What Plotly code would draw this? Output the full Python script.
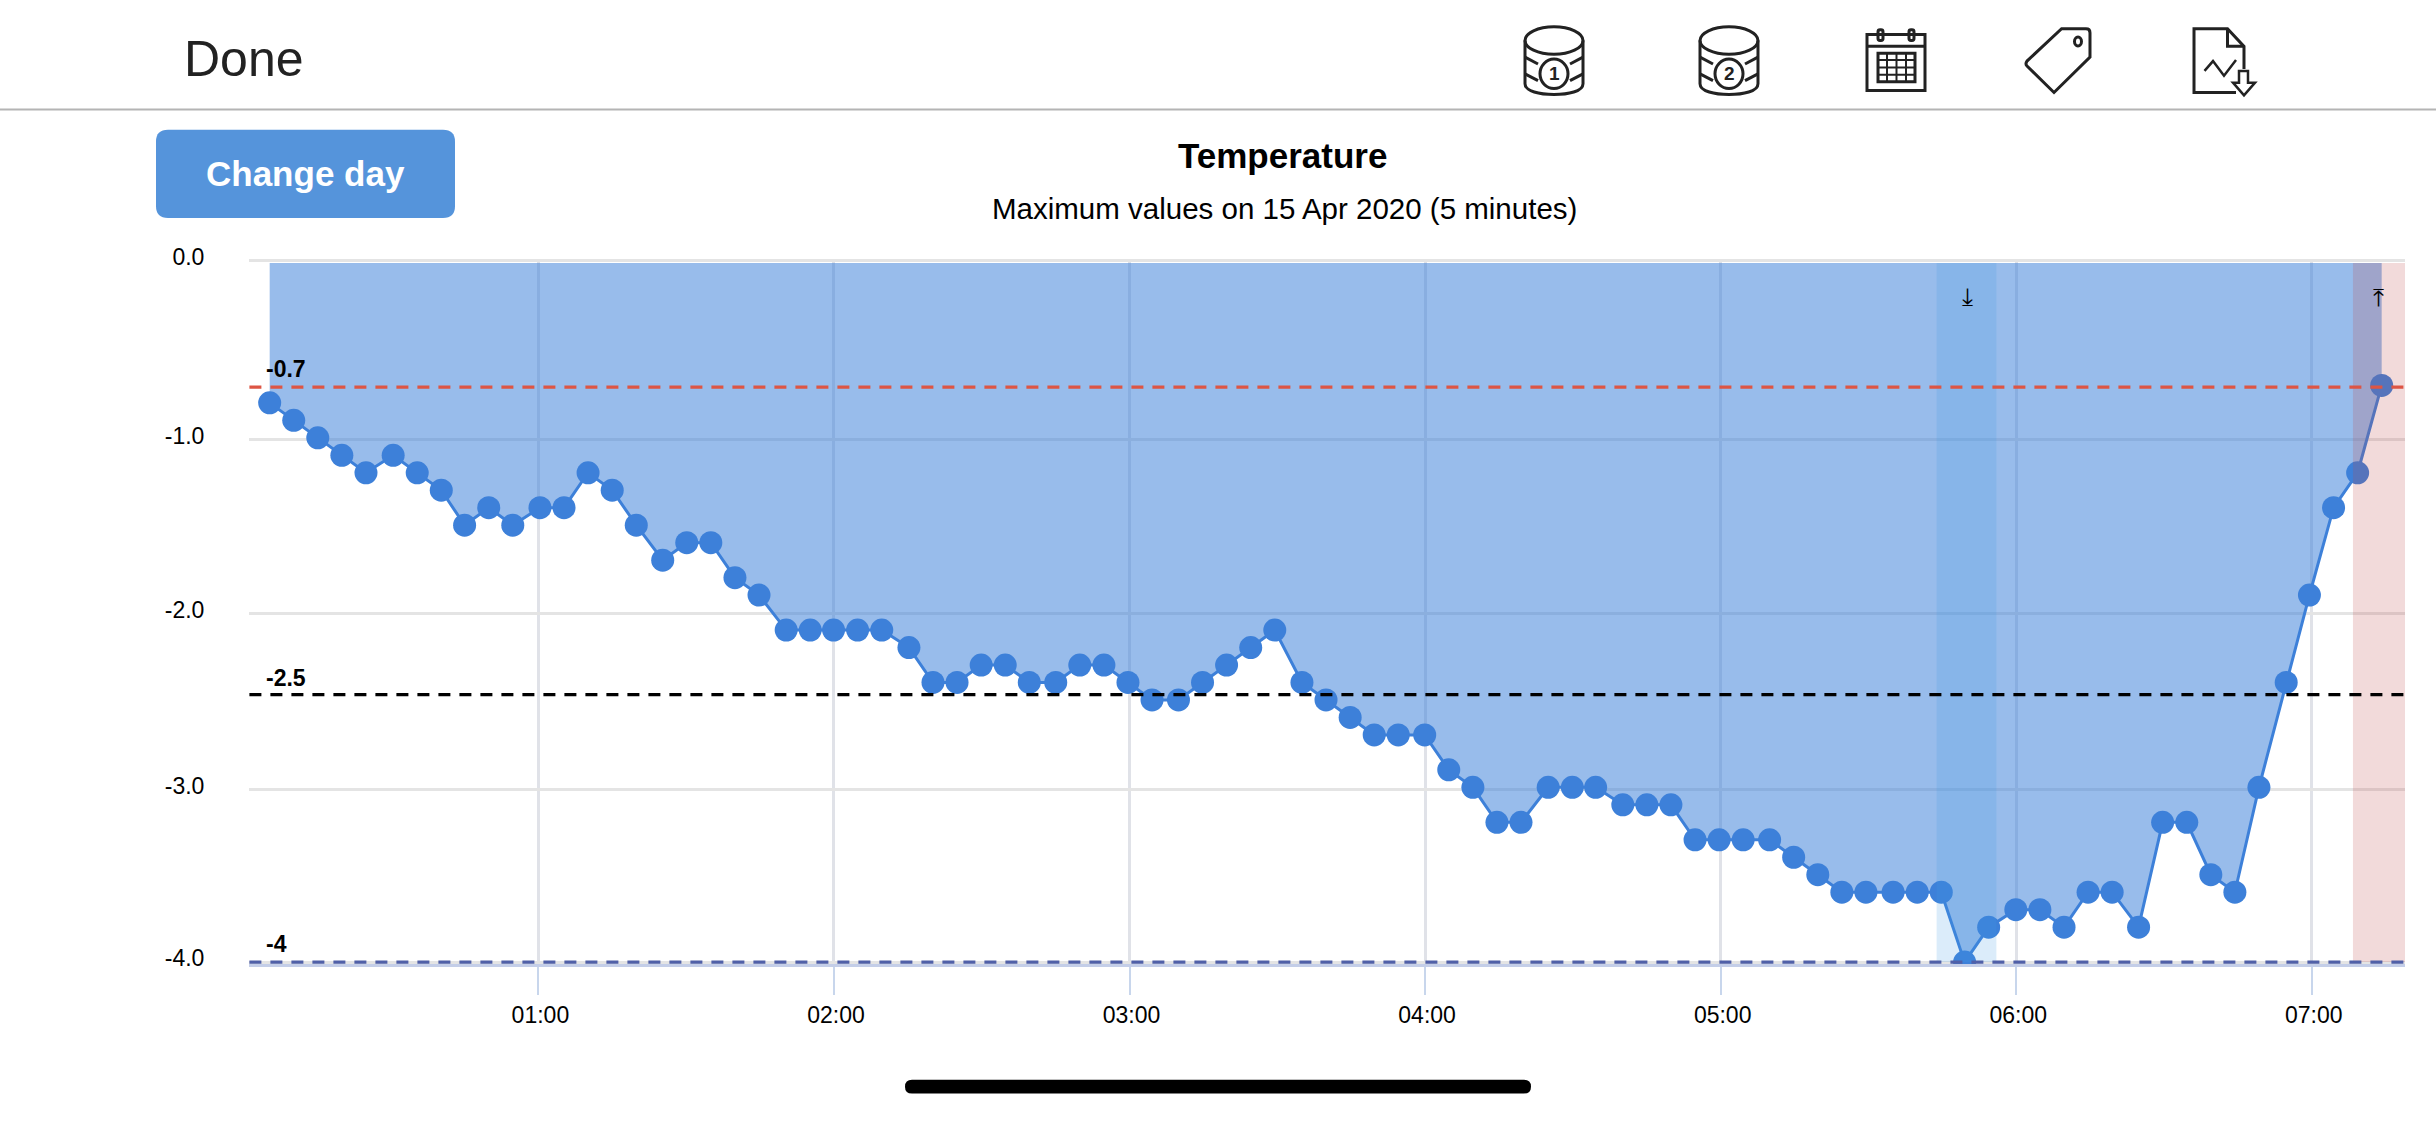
import re
import plotly.graph_objects as go

W, H = 2436, 1125
DAY = "2020-04-15 "

times = ["00:05:27","00:10:20","00:15:13","00:20:06","00:25:00","00:30:31","00:35:24","00:40:17","00:45:01","00:49:55",
"00:54:48","01:00:19","01:05:12","01:10:05","01:14:59","01:19:52","01:25:14","01:30:07","01:35:00","01:39:54",
"01:44:47","01:50:18","01:55:11","01:59:55","02:04:48","02:09:42","02:15:13","02:20:06","02:24:59","02:29:53",
"02:34:46","02:39:39","02:45:01","02:49:54","02:54:48","02:59:41","03:04:34","03:09:56","03:14:49","03:19:42",
"03:24:36","03:29:29","03:35:00","03:39:53","03:44:47","03:49:40","03:54:33","03:59:55","04:04:48","04:09:42",
"04:14:35","04:19:28","04:24:59","04:29:53","04:34:37","04:40:08","04:45:01","04:49:54","04:54:48","04:59:41",
"05:04:34","05:09:56","05:14:49","05:19:43","05:24:36","05:29:29","05:35:00","05:39:54","05:44:47","05:49:31",
"05:54:24","05:59:55","06:04:48","06:09:42","06:14:35","06:19:28","06:24:50","06:29:43","06:34:37","06:39:30",
"06:44:23","06:49:16","06:54:48","06:59:31","07:04:25","07:09:18","07:14:11"]
temps = [-0.8,-0.9,-1.0,-1.1,-1.2,-1.1,-1.2,-1.3,-1.5,-1.4,
-1.5,-1.4,-1.4,-1.2,-1.3,-1.5,-1.7,-1.6,-1.6,-1.8,
-1.9,-2.1,-2.1,-2.1,-2.1,-2.1,-2.2,-2.4,-2.4,-2.3,
-2.3,-2.4,-2.4,-2.3,-2.3,-2.4,-2.5,-2.5,-2.4,-2.3,
-2.2,-2.1,-2.4,-2.5,-2.6,-2.7,-2.7,-2.7,-2.9,-3.0,
-3.2,-3.2,-3.0,-3.0,-3.0,-3.1,-3.1,-3.1,-3.3,-3.3,
-3.3,-3.3,-3.4,-3.5,-3.6,-3.6,-3.6,-3.6,-3.6,-4.0,
-3.8,-3.7,-3.7,-3.8,-3.6,-3.6,-3.8,-3.2,-3.2,-3.5,
-3.6,-3.0,-2.4,-1.9,-1.4,-1.2,-0.7]

y_ticks = [0.012, -1.01, -2.005, -3.015, -4.0]
y_tick_labels = ["0.0", "-1.0", "-2.0", "-3.0", "-4.0"]
x_ticks = ["01:00", "02:00", "03:00", "04:00", "05:00", "06:00", "07:00"]

threshold_values = [-0.71, -2.47, -4.0]
threshold_labels = ["-0.7", "-2.5", "-4"]
threshold_colors = ["#DD5544", "#000000", "#5060A8"]

band_starts = ["05:43:50", "07:08:21"]
band_ends = ["05:55:58", "07:18:55"]
band_colors = ["rgba(66,155,229,0.19)", "rgba(190,70,70,0.2)"]
band_marks = ["\u2913", "\u2912"]

BLUE = "#3D80D9"
INK = "#222222"


def pxx(x):
    return x / W


def pxy(y):
    return 1 - y / H


def conv(d):
    return re.sub(r"(-?[\d.]+),(-?[\d.]+)",
                  lambda m: f"{pxx(float(m.group(1))):.5f},{pxy(float(m.group(2))):.5f}", d)


shapes = []


def path(d, line=INK, width=3, fill=None):
    s = dict(type="path", xref="paper", yref="paper", path=conv(d), layer="above",
             line=dict(color=line, width=width))
    if fill:
        s["fillcolor"] = fill
    shapes.append(s)


def rrect(x0, y0, x1, y1, r):
    return (f"M{x0+r},{y0} L{x1-r},{y0} Q{x1},{y0} {x1},{y0+r} L{x1},{y1-r} Q{x1},{y1} {x1-r},{y1} "
            f"L{x0+r},{y1} Q{x0},{y1} {x0},{y1-r} L{x0},{y0+r} Q{x0},{y0} {x0+r},{y0} Z")


def ellipse(cx, cy, rx, ry):
    k = 0.5523
    return (f"M{cx-rx},{cy} C{cx-rx},{cy-k*ry} {cx-k*rx},{cy-ry} {cx},{cy-ry} "
            f"C{cx+k*rx},{cy-ry} {cx+rx},{cy-k*ry} {cx+rx},{cy} "
            f"C{cx+rx},{cy+k*ry} {cx+k*rx},{cy+ry} {cx},{cy+ry} "
            f"C{cx-k*rx},{cy+ry} {cx-rx},{cy+k*ry} {cx-rx},{cy} Z")


# translucent day bands, then threshold lines, both above the series
for a, b, c in zip(band_starts, band_ends, band_colors):
    shapes.append(dict(type="rect", xref="x", yref="y", x0=DAY + a, x1=DAY + b, y0=0, y1=-4,
                       fillcolor=c, line=dict(width=0), layer="above"))
for v, c in zip(threshold_values, threshold_colors):
    shapes.append(dict(type="line", xref="x domain", yref="y", x0=0, x1=1, y0=v, y1=v, layer="above",
                       line=dict(color=c, width=3.2, dash="12px,9px")))

# header rule, button, home bar
path("M0,96.5 L2436,96.5", line="#B4B4B4", width=2)
path(rrect(156, 117, 455, 207, 12), line="#5594DB", width=0, fill="#5594DB")
path(rrect(905, 1086, 1531, 1100, 7), line="#000000", width=0, fill="#000000")

# database icons
for cx in (1554, 1729):
    path(ellipse(cx, 26, 29, 14))
    path(f"M{cx-29},26 L{cx-29},70 C{cx-29},78 {cx-14},81 {cx},81 C{cx+14},81 {cx+29},78 {cx+29},70 L{cx+29},26")
    path(f"M{cx-29},43 L{cx-16},50")
    path(f"M{cx+29},43 L{cx+16},50")
    path(f"M{cx-29},60 L{cx-16},67")
    path(f"M{cx+29},60 L{cx+16},67")
    path(ellipse(cx, 60, 14, 15))
# calendar icon
path("M1867,20 L1925,20 L1925,77 L1867,77 Z")
path("M1867,32 L1925,32")
path(rrect(1878, 15, 1883, 26, 2))
path(rrect(1909, 15, 1914, 26, 2))
path("M1878,39 L1915,39 L1915,68 L1878,68 Z")
for gx in (1887, 1896.5, 1906):
    path(f"M{gx},39 L{gx},68", width=2)
for gy in (46, 53.5, 61):
    path(f"M1878,{gy} L1915,{gy}", width=2)
# tag icon
path("M2061.6,14 L2086,14 Q2090,14 2090,18 L2090,43 L2054,79 L2027,52 Q2025,50 2027,47 Z".replace("L2054,79 L2027,52", "L2054,79 L2027,52"))
path(ellipse(2078, 27, 3.5, 4.5))
# file / export icon
path("M2236,79 L2194,79 L2194,14 L2227.5,14 L2244,32 L2244,55")
path("M2227.5,14 L2227.5,32 L2244,32")
path("M2204.5,57 L2213,47 L2224,62 L2236,46", width=2.5)
path("M2239,57 L2248,57 L2248,69 L2255,69 L2244,82 L2233,69 L2239,69 Z", width=2.5)

ann = []


def text(x, y, t, size, color="#000000", bold=False, anchor="center", family="Liberation Sans"):
    ann.append(dict(x=pxx(x), y=pxy(y), xref="paper", yref="paper", text=f"<b>{t}</b>" if bold else t,
                    showarrow=False, xanchor=anchor, yanchor="middle",
                    font=dict(size=size, color=color, family=family)))


text(182, 45, "Done", 50, color=INK, anchor="left")
text(305, 162, "Change day", 35, color="#FFFFFF", bold=True)
text(1282, 143, "Temperature", 35, bold=True)
text(1284, 197, "Maximum values on 15 Apr 2020 (5 minutes)", 29.5)
text(1554, 60, "1", 19, color=INK, bold=True)
text(1729, 60, "2", 19, color=INK, bold=True)
for lab, yp in zip(threshold_labels, (361, 676, 948)):
    text(264, yp, lab, 23, bold=True, anchor="left")
text(1967.4, 288, band_marks[0], 25, family="DejaVu Sans")
text(2378.6, 288, band_marks[1], 25, family="DejaVu Sans")

fig = go.Figure(go.Scatter(
    x=[DAY + t for t in times], y=temps, mode="lines+markers", fill="tozeroy",
    fillcolor="rgba(61,128,217,0.53)",
    line=dict(color=BLUE, width=3), marker=dict(color=BLUE, size=23), hoverinfo="skip"))

fig.update_layout(
    width=W, height=H, autosize=False, margin=dict(l=0, r=0, t=0, b=0, pad=0),
    paper_bgcolor="#FFFFFF", plot_bgcolor="#FFFFFF", showlegend=False,
    font=dict(family="Liberation Sans", color="#000000"),
    shapes=shapes, annotations=ann,
    xaxis=dict(type="date", domain=[249.4 / W, 2405 / W],
               range=[DAY + "00:01:20", DAY + "07:18:55"],
               tickvals=[DAY + t for t in x_ticks], ticktext=x_ticks,
               showgrid=True, gridcolor="#E0E2E8", gridwidth=3,
               zeroline=False, showline=True, linecolor="#C4CEE8", linewidth=3,
               ticks="outside", ticklen=28, tickwidth=2, tickcolor="#C8D6EC",
               ticklabelshift=2, tickfont=dict(size=23, color="#000000")),
    yaxis=dict(domain=[pxy(968), pxy(249)], range=[-4.0112, 0.0224],
               tickvals=y_ticks, ticktext=y_tick_labels,
               showgrid=True, gridcolor="#E4E4E4", gridwidth=3,
               zeroline=False, showline=False, ticks="",
               ticklabelstandoff=44, ticklabelshift=-4, tickfont=dict(size=23, color="#000000")),
)

fig.write_html("out.html", config=dict(displayModeBar=False),
               post_script="document.body.style.margin='0';document.body.style.overflow='hidden';")
